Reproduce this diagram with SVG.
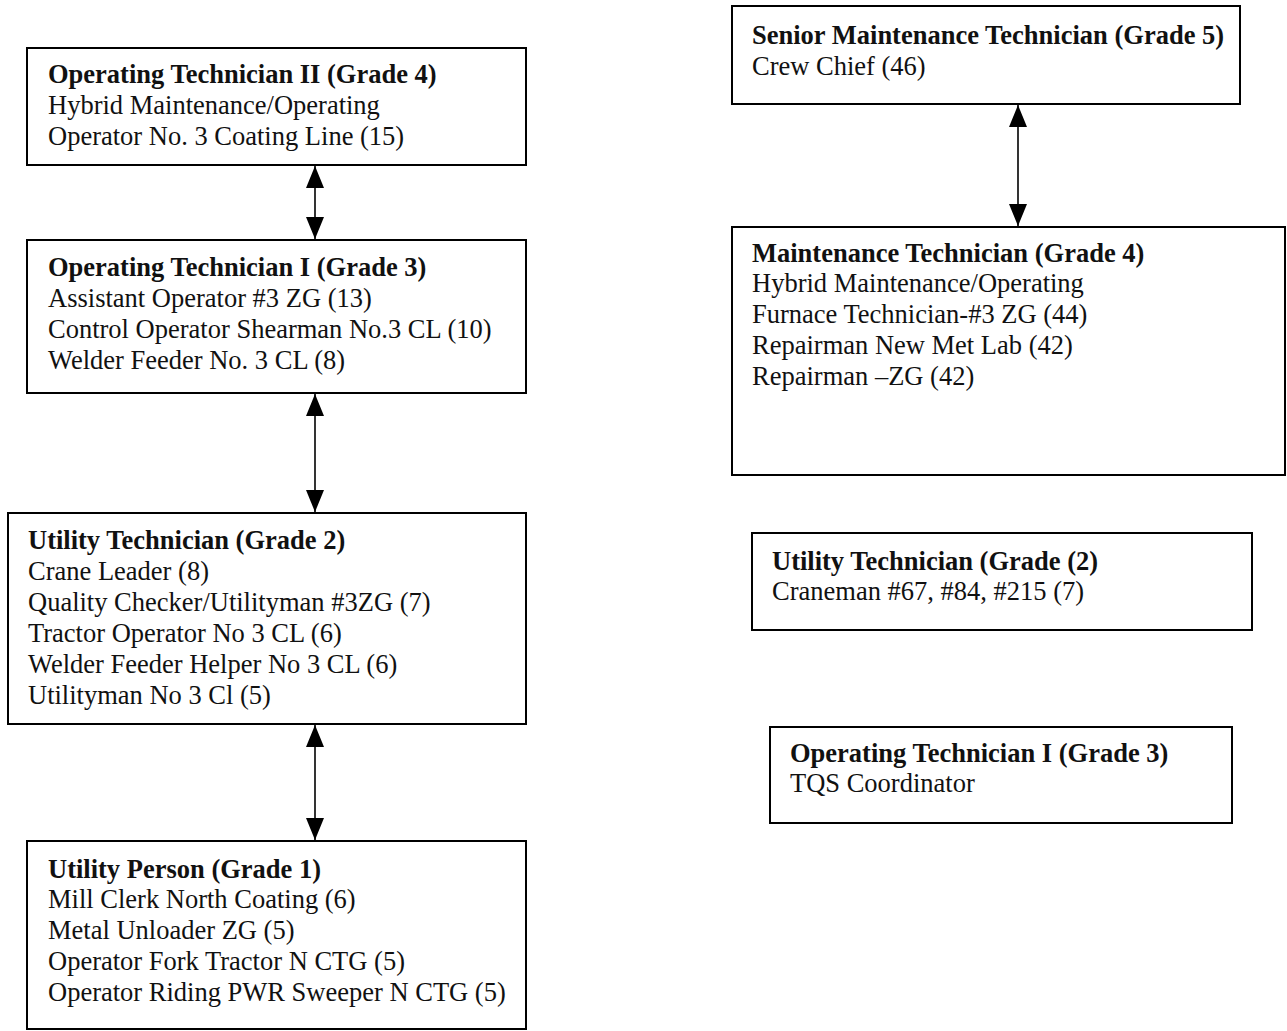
<svg xmlns="http://www.w3.org/2000/svg" width="1287" height="1031" viewBox="0 0 1287 1031">
<style>
.box{fill:#fff;stroke:#000;stroke-width:2}
.t{font-family:"Liberation Serif","Times New Roman",serif;font-size:26.5px;fill:#111}
.b{font-weight:bold}
.c{stroke:#000;stroke-width:1.6;fill:none}
</style>
<defs>
<marker id="ah2" viewBox="0 0 22 18" refX="22" refY="9" markerWidth="22" markerHeight="18" markerUnits="userSpaceOnUse" orient="auto-start-reverse">
<path d="M0,0 L22,9 L0,18 z" fill="#000"/>
</marker>
</defs>
<rect width="1287" height="1031" fill="#fff"/>

<g id="connectors">
<line class="c" x1="315" y1="166" x2="315" y2="239" marker-start="url(#ah2)" marker-end="url(#ah2)"/>
<line class="c" x1="315" y1="394" x2="315" y2="512" marker-start="url(#ah2)" marker-end="url(#ah2)"/>
<line class="c" x1="315" y1="725" x2="315" y2="840" marker-start="url(#ah2)" marker-end="url(#ah2)"/>
<line class="c" x1="1018" y1="105" x2="1018" y2="226" marker-start="url(#ah2)" marker-end="url(#ah2)"/>
</g>

<g id="op-tech-2">
<rect class="box" x="27" y="48" width="499" height="117"/>
<text class="t b" x="48" y="83">Operating Technician II (Grade 4)</text>
<text class="t" x="48" y="114">Hybrid Maintenance/Operating</text>
<text class="t" x="48" y="145">Operator No. 3 Coating Line (15)</text>
</g>

<g id="op-tech-1">
<rect class="box" x="27" y="240" width="499" height="153"/>
<text class="t b" x="48" y="276">Operating Technician I (Grade 3)</text>
<text class="t" x="48" y="307">Assistant Operator #3 ZG (13)</text>
<text class="t" x="48" y="338">Control Operator Shearman No.3 CL (10)</text>
<text class="t" x="48" y="369">Welder Feeder No. 3 CL (8)</text>
</g>

<g id="utility-tech">
<rect class="box" x="8" y="513" width="518" height="211"/>
<text class="t b" x="28" y="549">Utility Technician (Grade 2)</text>
<text class="t" x="28" y="580">Crane Leader (8)</text>
<text class="t" x="28" y="611">Quality Checker/Utilityman #3ZG (7)</text>
<text class="t" x="28" y="642">Tractor Operator No 3 CL (6)</text>
<text class="t" x="28" y="673">Welder Feeder Helper No 3 CL (6)</text>
<text class="t" x="28" y="704">Utilityman No 3 Cl (5)</text>
</g>

<g id="utility-person">
<rect class="box" x="27" y="841" width="499" height="188"/>
<text class="t b" x="48" y="878">Utility Person (Grade 1)</text>
<text class="t" x="48" y="908">Mill Clerk North Coating (6)</text>
<text class="t" x="48" y="939">Metal Unloader ZG (5)</text>
<text class="t" x="48" y="970">Operator Fork Tractor N CTG (5)</text>
<text class="t" x="48" y="1001">Operator Riding PWR Sweeper N CTG (5)</text>
</g>

<g id="senior-maint">
<rect class="box" x="732" y="6" width="508" height="98"/>
<text class="t b" x="752" y="44">Senior Maintenance Technician (Grade 5)</text>
<text class="t" x="752" y="75">Crew Chief  (46)</text>
</g>

<g id="maint-tech">
<rect class="box" x="732" y="227" width="553" height="248"/>
<text class="t b" x="752" y="262">Maintenance Technician (Grade 4)</text>
<text class="t" x="752" y="292">Hybrid Maintenance/Operating</text>
<text class="t" x="752" y="323">Furnace Technician-#3 ZG (44)</text>
<text class="t" x="752" y="354">Repairman New Met Lab (42)</text>
<text class="t" x="752" y="385">Repairman –ZG (42)</text>
</g>

<g id="utility-tech-right">
<rect class="box" x="752" y="533" width="500" height="97"/>
<text class="t b" x="772" y="570">Utility Technician (Grade (2)</text>
<text class="t" x="772" y="600">Craneman #67, #84, #215 (7)</text>
</g>

<g id="tqs">
<rect class="box" x="770" y="727" width="462" height="96"/>
<text class="t b" x="790" y="762">Operating Technician I (Grade 3)</text>
<text class="t" x="790" y="792">TQS Coordinator</text>
</g>
</svg>
